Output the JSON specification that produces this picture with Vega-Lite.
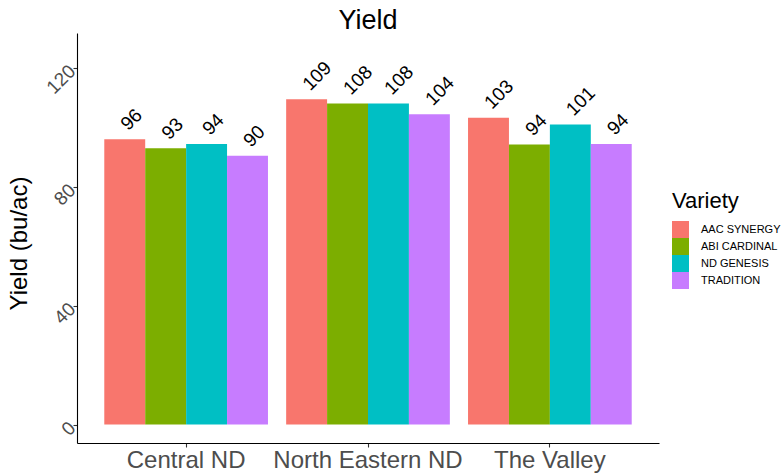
{
  "$schema": "https://vega.github.io/schema/vega-lite/v6.json",
  "width": 582,
  "height": 410,
  "autosize": {"type": "none"},
  "padding": {"left": 77, "top": 33, "right": 124, "bottom": 33},
  "background": "white",
  "title": {"text": "Yield", "fontSize": 27, "font": "Liberation Sans", "fontWeight": "normal", "color": "black", "anchor": "middle", "baseline": "alphabetic", "offset": 5, "dy": 28, "frame": "group"},
  "config": {
    "view": {"stroke": null},
    "font": "Liberation Sans"
  },
  "data": {"values": [
    {"location": "Central ND", "variety": "AAC SYNERGY", "yield": 96.0},
    {"location": "Central ND", "variety": "ABI CARDINAL", "yield": 92.9},
    {"location": "Central ND", "variety": "ND GENESIS", "yield": 94.4},
    {"location": "Central ND", "variety": "TRADITION", "yield": 90.4},
    {"location": "North Eastern ND", "variety": "AAC SYNERGY", "yield": 109.4},
    {"location": "North Eastern ND", "variety": "ABI CARDINAL", "yield": 108.0},
    {"location": "North Eastern ND", "variety": "ND GENESIS", "yield": 108.0},
    {"location": "North Eastern ND", "variety": "TRADITION", "yield": 104.4},
    {"location": "The Valley", "variety": "AAC SYNERGY", "yield": 103.2},
    {"location": "The Valley", "variety": "ABI CARDINAL", "yield": 94.2},
    {"location": "The Valley", "variety": "ND GENESIS", "yield": 100.9},
    {"location": "The Valley", "variety": "TRADITION", "yield": 94.4}
  ]},
  "encoding": {
    "x": {
      "field": "location", "type": "nominal",
      "scale": {"paddingInner": 0.1, "paddingOuter": 0.15},
      "axis": {
        "title": null, "labelAngle": 0, "labelFontSize": 24, "labelColor": "#4D4D4D",
        "labelFont": "Liberation Sans", "labelPadding": 1, "labelLimit": 400,
        "domainColor": "black", "domainWidth": 1.1, "tickColor": "#333333", "tickSize": 4, "tickWidth": 1.1
      }
    },
    "xOffset": {"field": "variety", "type": "nominal", "scale": {"paddingInner": 0, "paddingOuter": 0}},
    "y": {
      "field": "yield", "type": "quantitative",
      "scale": {"domain": [-6.2, 131.7], "nice": false, "zero": false},
      "axis": {
        "title": "Yield (bu/ac)", "titleFontSize": 24, "titleFontWeight": "normal", "titleColor": "black",
        "titleFont": "Liberation Sans", "titleX": -58, "titleY": 210, "titleAngle": -90, "titleBaseline": "middle", "titleAlign": "center",
        "values": [0, 40, 80, 120], "grid": false,
        "labelAngle": -45, "labelAlign": "right", "labelBaseline": "middle", "labelFontSize": 19,
        "labelColor": "#4D4D4D", "labelFont": "Liberation Sans", "labelPadding": 1,
        "domainColor": "black", "domainWidth": 1.1, "tickColor": "#333333", "tickSize": 4, "tickWidth": 1.1
      }
    }
  },
  "layer": [
    {
      "mark": {"type": "bar"},
      "encoding": {
        "y2": {"datum": 0},
        "color": {
          "field": "variety", "type": "nominal",
          "scale": {"domain": ["AAC SYNERGY", "ABI CARDINAL", "ND GENESIS", "TRADITION"], "range": ["#F8766D", "#7CAE00", "#00BFC4", "#C77CFF"]},
          "legend": {
            "title": "Variety", "orient": "none", "legendX": 595, "legendY": 158,
            "titleFontSize": 22, "titleFontWeight": "normal", "titleColor": "black", "titleFont": "Liberation Sans", "titlePadding": 8,
            "labelFontSize": 11, "labelColor": "black", "labelFont": "Liberation Sans", "labelOffset": 12,
            "symbolType": "square", "symbolSize": 289, "symbolStrokeWidth": 0, "rowPadding": 0, "symbolOpacity": 1
          }
        }
      }
    },
    {
      "mark": {"type": "text", "angle": -45, "align": "left", "baseline": "alphabetic", "dx": 8, "dy": -3, "fontSize": 19, "color": "black", "font": "Liberation Sans"},
      "encoding": {
        "text": {"field": "yield", "type": "quantitative", "format": ".0f"}
      }
    }
  ]
}
